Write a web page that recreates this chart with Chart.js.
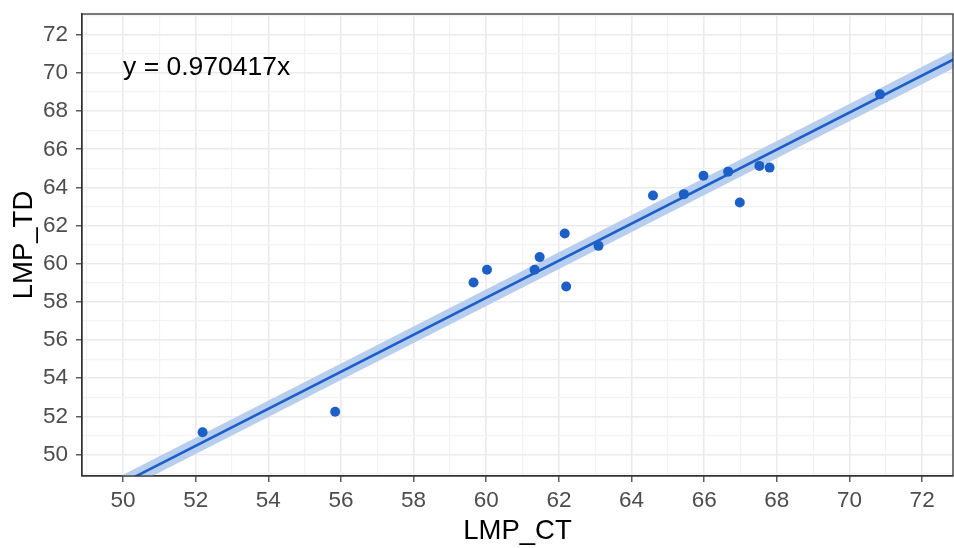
<!DOCTYPE html>
<html><head><meta charset="utf-8">
<script src="https://cdn.jsdelivr.net/npm/chart.js@4/dist/chart.umd.min.js"></script>
<style>html,body{margin:0;padding:0;background:#fff;} #wrap{width:954px;height:548px;}</style>
</head><body><div id="wrap"><canvas id="c" width="954" height="548"></canvas></div>
<script>
// Observed data (LMP_CT vs LMP_TD)
const lmpCT = [52.19, 55.84, 59.65, 60.02, 61.33, 61.47, 62.16, 62.20, 63.09, 64.59, 65.44, 65.98, 66.66, 66.98, 67.52, 67.80, 70.84];
const lmpTD = [51.17, 52.25, 59.02, 59.69, 59.69, 60.35, 61.59, 58.81, 60.94, 63.58, 63.65, 64.61, 64.83, 63.21, 65.13, 65.04, 68.88];
// Fitted line through origin (y = 0.970417x) and its confidence band, read at two x positions
const fitX = [48, 74];
const fitY = [46.58, 71.81];
const ciLower = [46.16, 71.35];
const ciUpper = [47.00, 72.27];
// Axis ranges and tick labels
const xRange = [48.87, 72.85];
const yRange = [48.88, 73.09];
const xTickLabels = ['50','52','54','56','58','60','62','64','66','68','70','72'];
const yTickLabels = ['50','52','54','56','58','60','62','64','66','68','70','72'];
const eqLabel = 'y = 0.970417x';
const eqPos = [50, 70.3];

const FONT = "'Liberation Sans', Arial, sans-serif";
const pts = lmpCT.map((x, i) => ({x, y: lmpTD[i]}));
const toXY = (xs, ys) => xs.map((x, i) => ({x, y: ys[i]}));

const isMajor = (v, labels) => Math.abs(v - Math.round(v)) < 1e-6 && labels.includes(String(Math.round(v)));

const frame = {
  id: 'frame',
  afterDatasetsDraw(chart) {
    const {ctx, chartArea: a, scales} = chart;
    ctx.save();
    ctx.font = '26.5px ' + FONT;
    ctx.fillStyle = '#000';
    ctx.textAlign = 'left';
    ctx.textBaseline = 'middle';
    ctx.fillText(eqLabel, scales.x.getPixelForValue(eqPos[0]), scales.y.getPixelForValue(eqPos[1]));
    ctx.strokeStyle = '#333333';
    ctx.lineWidth = 1.3;
    ctx.strokeRect(a.left, a.top, a.right - a.left, a.bottom - a.top);
    ctx.restore();
  }
};

function axis(range, labels, title, isX) {
  return {
    type: 'linear',
    min: range[0], max: range[1],
    afterFit(s) {
      if (isX) { s.height = 72; s.paddingLeft = 0; s.paddingRight = 0; }
      else { s.width = 82; s.paddingTop = 0; s.paddingBottom = 0; }
    },
    ticks: {
      stepSize: 1, includeBounds: false, autoSkip: false, maxRotation: 0,
      color: '#4D4D4D', font: {family: FONT, size: 22.5},
      padding: isX ? 5 : 8,
      callback: v => isMajor(v, labels) ? String(Math.round(v)) : ''
    },
    grid: {
      color: c => isMajor(c.tick.value, labels) ? '#EBEBEB' : '#F2F2F2',
      lineWidth: c => isMajor(c.tick.value, labels) ? 1.6 : 1.2,
      tickColor: c => isMajor(c.tick.value, labels) ? '#333333' : 'rgba(0,0,0,0)',
      tickLength: 6, tickWidth: 1.2, drawTicks: true
    },
    border: {display: true, color: '#333333', width: 1.3},
    title: {
      display: true, text: title, color: '#000',
      font: {family: FONT, size: 27.5},
      padding: isX ? {top: 0, bottom: 0} : {top: 8, bottom: 0}
    }
  };
}

new Chart(document.getElementById('c'), {
  type: 'scatter',
  data: {
    datasets: [
      {data: pts, backgroundColor: '#1C5FC7', borderWidth: 0, pointRadius: 5, pointHoverRadius: 5},
      {data: toXY(fitX, fitY), showLine: true, borderColor: '#1C5FC7', borderWidth: 2.6, pointRadius: 0, fill: false},
      {data: toXY(fitX, ciLower), showLine: true, borderWidth: 0, borderColor: 'rgba(0,0,0,0)', pointRadius: 0, fill: false},
      {data: toXY(fitX, ciUpper), showLine: true, borderWidth: 0, borderColor: 'rgba(0,0,0,0)', pointRadius: 0, fill: '-1', backgroundColor: '#B7CEEF'}
    ]
  },
  options: {
    responsive: false, animation: false,
    layout: {autoPadding: false, padding: {top: 14, right: 1, left: 0, bottom: 0}},
    plugins: {legend: {display: false}, tooltip: {enabled: false}},
    scales: {
      x: axis(xRange, xTickLabels, 'LMP_CT', true),
      y: axis(yRange, yTickLabels, 'LMP_TD', false)
    }
  },
  plugins: [frame]
});
</script></body></html>
